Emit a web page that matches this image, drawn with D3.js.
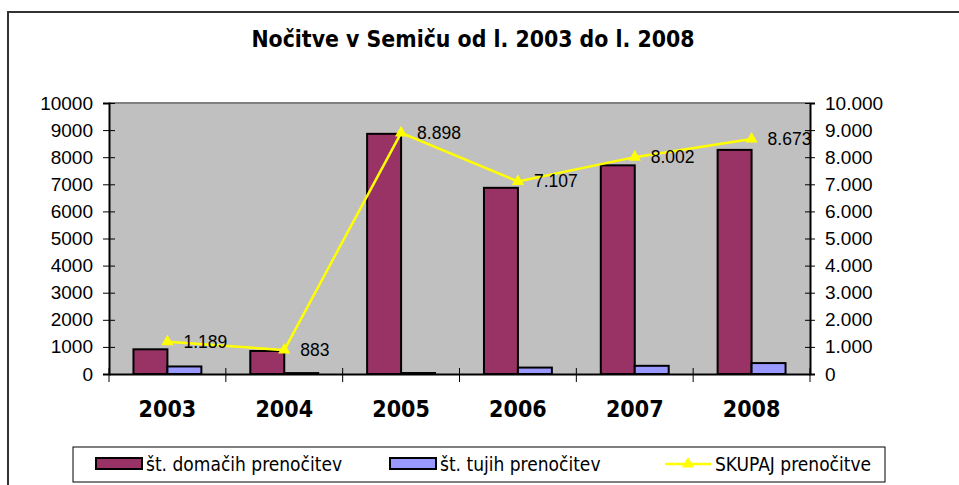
<!DOCTYPE html>
<html>
  <meta charset="utf-8">
  <style>
  body { margin: 0; background: #fff; }
  .axis text { font-family: "Liberation Sans", Arial, sans-serif; font-size: 19px; fill: #000; }
  .axis line, .axis path { stroke: #000; }
  </style>
  <head>
<script src="https://d3js.org/d3.v7.min.js"></script>
  </head>
  <body>
    <script>
      // data
      var years = ["2003", "2004", "2005", "2006", "2007", "2008"];
      var domaci = [911, 849, 8862, 6870, 7700, 8270];
      var tuji = [278, 34, 36, 237, 302, 403];
      var skupaj = [1189, 883, 8898, 7107, 8002, 8673];
      var yTicks = [0, 1000, 2000, 3000, 4000, 5000, 6000, 7000, 8000, 9000, 10000];
      var seriesNames = ["št. domačih prenočitev", "št. tujih prenočitev", "SKUPAJ prenočitve"];

      var width = 959,
          height = 485;

      var si = d3.formatLocale({decimal: ",", thousands: ".", grouping: [3], currency: ["", " €"]});
      var fmtDot = si.format(",d");

      var svg = d3.select("body").append("svg")
          .attr("width", width)
          .attr("height", height);

      // outer chart frame (runs off the page at right and bottom)
      svg.append("rect")
          .attr("x", 8).attr("y", 12)
          .attr("width", 990).attr("height", 520)
          .attr("fill", "#fff")
          .attr("stroke", "#333").attr("stroke-width", 2);

      svg.append("text")
          .attr("x", 473).attr("y", 47)
          .attr("text-anchor", "middle")
          .style("font-family", "'DejaVu Sans Condensed', 'DejaVu Sans', sans-serif")
          .style("font-weight", "bold")
          .style("font-size", "22.8px")
          .text("Nočitve v Semiču od l. 2003 do l. 2008");

      var x = d3.scaleBand().domain(years).range([109, 810]);
      var xs = d3.scaleBand().domain(["d", "t"]).range([0, x.bandwidth()]).paddingOuter(0.72);
      var y = d3.scaleLinear().domain([0, 10000]).range([374, 103]);

      // plot area
      svg.append("rect")
          .attr("x", 109).attr("y", y(10000))
          .attr("width", 810 - 109).attr("height", y(0) - y(10000))
          .attr("fill", "#c0c0c0");
      svg.append("line")
          .attr("x1", 109).attr("x2", 810)
          .attr("y1", y(10000)).attr("y2", y(10000))
          .attr("stroke", "#808080").attr("stroke-width", 2);

      var g = svg.append("g");
      g.selectAll("rect.dom")
          .data(domaci)
          .enter().append("rect")
          .attr("class", "dom")
          .attr("x", function(d, i) { return x(years[i]) + xs("d"); })
          .attr("y", function(d) { return y(d); })
          .attr("width", xs.bandwidth())
          .attr("height", function(d) { return y(0) - y(d); })
          .attr("fill", "#993366")
          .attr("stroke", "#000").attr("stroke-width", 2);
      g.selectAll("rect.tuj")
          .data(tuji)
          .enter().append("rect")
          .attr("class", "tuj")
          .attr("x", function(d, i) { return x(years[i]) + xs("t"); })
          .attr("y", function(d) { return y(d); })
          .attr("width", xs.bandwidth())
          .attr("height", function(d) { return y(0) - y(d); })
          .attr("fill", "#9999ff")
          .attr("stroke", "#000").attr("stroke-width", 2);

      // axes
      var left = svg.append("g")
          .attr("class", "axis")
          .attr("transform", "translate(109,0)")
          .call(d3.axisLeft(y).tickValues(yTicks).tickSize(6).tickPadding(10).tickFormat(d3.format("d")));
      left.selectAll(".tick line").attr("x1", 6);
      left.select(".domain").attr("stroke-width", 2);

      var right = svg.append("g")
          .attr("class", "axis")
          .attr("transform", "translate(810,0)")
          .call(d3.axisRight(y).tickValues(yTicks).tickSize(5).tickPadding(10).tickFormat(fmtDot));
      right.selectAll(".tick line").attr("x1", -5);
      right.select(".domain").attr("stroke", "#333").attr("stroke-width", 2);

      var bottom = svg.append("g")
          .attr("class", "axis")
          .attr("transform", "translate(0," + y(0) + ")")
          .call(d3.axisBottom(x).tickSize(0).tickPadding(43));
      bottom.select(".domain").attr("stroke-width", 2);
      bottom.selectAll("text")
          .style("font-family", "'DejaVu Sans Condensed', 'DejaVu Sans', sans-serif")
          .style("font-weight", "bold")
          .style("font-size", "23px")
          .attr("dy", 0);

      var edges = years.map(function(d) { return x(d); }).concat([x.range()[1]]);
      bottom.selectAll("line.edge")
          .data(edges)
          .enter().append("line")
          .attr("class", "edge")
          .attr("x1", function(d) { return d; }).attr("x2", function(d) { return d; })
          .attr("y1", -6).attr("y2", 8)
          .attr("stroke", "#000");

      // total line
      var cx = function(i) { return x(years[i]) + x.bandwidth() / 2; };
      var line = d3.line()
          .x(function(d, i) { return cx(i); })
          .y(function(d) { return y(d); });
      svg.append("path")
          .datum(skupaj)
          .attr("d", line)
          .attr("fill", "none")
          .attr("stroke", "#ffff00")
          .attr("stroke-width", 2.5);
      var tri = d3.symbol().type(d3.symbolTriangle).size(65);
      svg.selectAll("path.mark")
          .data(skupaj)
          .enter().append("path")
          .attr("class", "mark")
          .attr("d", tri)
          .attr("transform", function(d, i) { return "translate(" + cx(i) + "," + y(d) + ")"; })
          .attr("fill", "#ffff00");
      svg.selectAll("text.lbl")
          .data(skupaj)
          .enter().append("text")
          .attr("class", "lbl")
          .attr("x", function(d, i) { return cx(i) + 16; })
          .attr("y", function(d) { return y(d) + 6; })
          .style("font-family", "'Liberation Sans', Arial, sans-serif")
          .style("font-size", "17.5px")
          .text(function(d) { return fmtDot(d); });

      // legend
      var lg = svg.append("g");
      lg.append("rect")
          .attr("x", 73).attr("y", 447)
          .attr("width", 812).attr("height", 35)
          .attr("fill", "#fff")
          .attr("stroke", "#000").attr("stroke-width", 1);
      var lx = [96, 390, 665];
      var lf = ["#993366", "#9999ff"];
      [0, 1].forEach(function(i) {
        lg.append("rect")
            .attr("x", lx[i]).attr("y", 458)
            .attr("width", 46).attr("height", 11)
            .attr("fill", lf[i])
            .attr("stroke", "#000").attr("stroke-width", 2);
      });
      lg.append("line")
          .attr("x1", lx[2]).attr("x2", lx[2] + 46)
          .attr("y1", 464).attr("y2", 464)
          .attr("stroke", "#ffff00").attr("stroke-width", 2.5);
      lg.append("path")
          .attr("d", tri)
          .attr("transform", "translate(" + (lx[2] + 23) + ",464)")
          .attr("fill", "#ffff00");
      lg.selectAll("text")
          .data(seriesNames)
          .enter().append("text")
          .attr("x", function(d, i) { return lx[i] + 50; })
          .attr("y", 471)
          .style("font-family", "'DejaVu Sans Condensed', 'DejaVu Sans', sans-serif")
          .style("font-size", "19px")
          .text(function(d) { return d; });
    </script>
  </body>
</html>
